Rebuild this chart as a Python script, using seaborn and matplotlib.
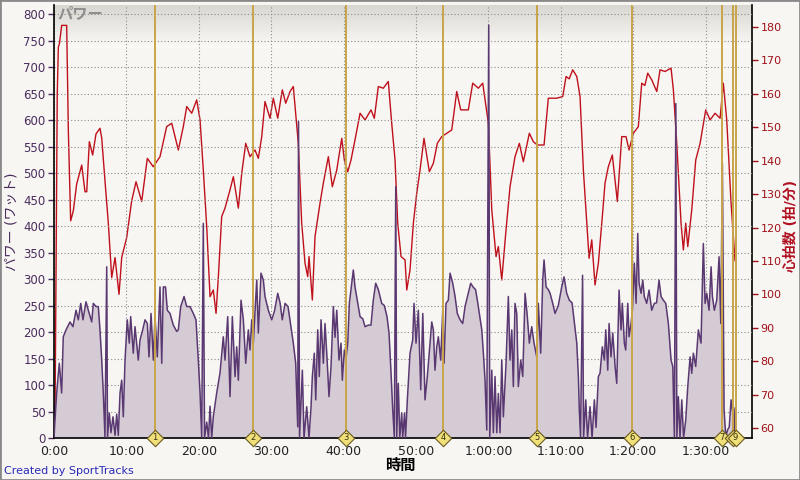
import numpy as np
import pandas as pd
import matplotlib
matplotlib.use('Agg')
import matplotlib.pyplot as plt
import seaborn as sns
from matplotlib.ticker import FuncFormatter, MultipleLocator
from matplotlib.patches import Rectangle

# 心拍数 (分, 拍/分)
hr_t = [0.0, 0.15, 0.45, 0.6, 0.75, 1.06, 1.75, 1.98, 2.3, 2.67, 3.13, 3.83, 4.28, 4.52, 4.88, 5.34,
        5.8, 6.35, 6.59, 7.04, 7.5, 7.97, 8.43, 8.98, 9.35, 10.04, 10.73, 11.33, 12.11, 12.89, 13.7,
        14.64, 15.56, 16.26, 17.17, 17.86, 18.33, 19.02, 19.71, 20.17, 20.62, 21.09, 21.55, 22.0,
        22.38, 22.7, 23.16, 23.62, 24.31, 24.77, 25.46, 25.93, 26.48, 27.07, 27.76, 28.22, 28.69,
        29.14, 29.83, 30.29, 30.9, 31.53, 32.0, 32.6, 33.05, 33.38, 33.74, 34.21, 34.67, 35.04,
        35.22, 35.68, 36.05, 36.74, 37.2, 37.89, 38.44, 39.05, 39.74, 40.1, 40.57, 41.02, 41.57,
        42.27, 42.96, 43.78, 44.24, 44.79, 45.48, 46.17, 46.64, 47.1, 47.47, 47.93, 48.48, 48.72,
        49.17, 49.63, 50.1, 50.55, 51.1, 51.84, 52.39, 52.94, 53.55, 54.24, 54.93, 55.62, 56.17,
        57.22, 57.83, 58.6, 59.21, 59.53, 59.99, 60.46, 61.05, 61.37, 61.84, 62.43, 62.98, 63.67,
        64.27, 64.82, 65.65, 66.2, 66.75, 67.68, 68.27, 69.43, 70.26, 70.72, 71.15, 71.64, 72.2,
        72.65, 73.11, 73.58, 73.9, 74.27, 74.72, 75.18, 75.73, 76.1, 76.56, 77.11, 77.8, 78.41,
        79.0, 79.42, 80.01, 80.7, 81.17, 81.6, 82.0, 82.55, 83.25, 83.7, 84.39, 85.22, 85.54,
        86.01, 86.6, 86.92, 87.25, 87.53, 88.08, 88.63, 89.23, 90.01, 90.61, 91.3, 91.99, 92.44,
        92.91, 93.51, 94.06]
hr_v = [62, 66, 160, 174, 175, 180.5, 180.5, 149, 122, 125, 133, 138.7, 130.7, 130.7, 145.7, 141.7,
        148, 149.7, 146.8, 134, 121.4, 105, 111, 100, 111, 117, 128, 133.7, 127.8, 140.7, 138.2,
        141.2, 150.2, 151.2, 143.2, 150.2, 156.2, 154.2, 158.2, 152.2, 137.2, 120.3, 99.3, 101.3,
        94.3, 105.3, 123.3, 125.8, 131.3, 135.2, 125.8, 136.3, 145.2, 141.2, 143.2, 140.7, 147.2,
        157.7, 152.7, 158.7, 152.7, 161.2, 157.2, 160.7, 162.2, 154.2, 145.2, 121.3, 109.3, 105.3,
        111.3, 98.3, 117.3, 127.3, 133.3, 141.2, 132.2, 137.2, 146.7, 140.2, 136.7, 140.2, 146.2,
        154.2, 152.2, 155.2, 152.7, 162.2, 161.7, 163.7, 151.2, 140.2, 121.3, 111.3, 110.3, 101.3,
        107.3, 121.3, 130.3, 137.2, 146.7, 136.7, 139.2, 145.2, 147.2, 148.2, 149.2, 160.7, 155.2,
        155.2, 163.2, 161.7, 163.2, 158.2, 151.2, 125.3, 111.3, 114.3, 104.3, 119.3, 132.2, 141.2,
        145.2, 139.7, 148.2, 145.7, 144.7, 144.7, 158.7, 158.7, 159.2, 165.2, 164.5, 167.2, 165.2,
        159.2, 137.2, 121.3, 110.8, 116.3, 102.8, 109.3, 123.3, 133.3, 138.2, 141.7, 127.8, 147.2,
        147.2, 143.2, 148.2, 150.2, 163.2, 162.5, 166.2, 164.2, 160.7, 167.2, 166.7, 167.7, 161.2,
        145.2, 121.3, 113.3, 121.3, 114.3, 125.3, 140.2, 145.2, 155.2, 152.2, 154.2, 152.7, 163.2,
        152.2, 127.3, 110]

# パワー (分, ワット)
pw_t = [0.0, 0.14, 0.37, 0.73, 1.06, 1.28, 1.66, 2.21, 2.62, 3.04, 3.36, 3.69, 4.0, 4.42, 4.74,
        5.21, 5.43, 5.8, 6.12, 6.35, 6.59, 6.81, 7.04, 7.28, 7.39, 7.64, 7.87, 8.15, 8.43, 8.66,
        8.88, 9.12, 9.35, 9.57, 9.81, 10.12, 10.4, 10.59, 10.95, 11.19, 11.64, 11.88, 12.25, 12.57,
        12.89, 13.12, 13.4, 13.72, 13.95, 14.27, 14.64, 14.88, 15.1, 15.4, 15.65, 16.02, 16.48,
        16.95, 17.17, 17.5, 17.96, 18.33, 18.78, 19.24, 19.61, 19.93, 20.17, 20.4, 20.62, 20.79,
        21.09, 21.34, 21.55, 21.78, 22.0, 22.46, 22.93, 23.38, 23.62, 23.99, 24.31, 24.63, 25.0,
        25.23, 25.46, 25.83, 26.15, 26.48, 26.84, 27.07, 27.31, 27.53, 28.0, 28.22, 28.59, 28.91,
        29.14, 29.6, 30.07, 30.46, 30.9, 31.22, 31.53, 31.91, 32.32, 32.73, 33.05, 33.38, 33.66,
        33.77, 33.91, 34.3, 34.53, 34.9, 35.22, 35.5, 35.68, 35.95, 36.15, 36.42, 36.64, 36.88,
        37.2, 37.43, 37.71, 37.98, 38.26, 38.58, 38.81, 39.05, 39.36, 39.64, 39.82, 40.1, 40.33,
        40.57, 40.79, 41.12, 41.34, 41.57, 41.95, 42.27, 42.64, 42.96, 43.41, 43.78, 44.1, 44.43,
        44.79, 45.26, 45.62, 45.99, 46.27, 46.55, 46.78, 47.0, 47.2, 47.33, 47.55, 47.75, 48.02,
        48.16, 48.41, 48.55, 48.8, 49.17, 49.54, 49.72, 50.0, 50.32, 50.65, 50.93, 51.24, 51.56,
        51.93, 52.17, 52.39, 52.62, 52.86, 53.08, 53.41, 53.69, 53.87, 54.14, 54.46, 54.7, 55.07,
        55.39, 55.7, 56.08, 56.45, 56.77, 57.22, 57.55, 57.87, 58.22, 58.47, 58.74, 59.08, 59.3,
        59.53, 59.77, 60.04, 60.18, 60.46, 60.68, 60.91, 61.15, 61.37, 61.6, 61.84, 62.06, 62.43,
        62.75, 62.98, 63.22, 63.44, 63.67, 63.91, 64.13, 64.46, 64.74, 65.06, 65.37, 65.65, 65.98,
        66.3, 66.67, 66.89, 67.22, 67.5, 67.68, 67.96, 68.27, 68.51, 68.88, 69.2, 69.65, 70.12,
        70.44, 70.81, 71.17, 71.55, 71.82, 72.2, 72.42, 72.55, 72.72, 73.0, 73.14, 73.44, 73.69,
        74.03, 74.31, 74.63, 74.86, 75.18, 75.41, 75.73, 76.01, 76.2, 76.48, 76.66, 76.93, 77.17,
        77.49, 77.72, 78.04, 78.31, 78.49, 78.77, 78.96, 79.24, 79.42, 79.7, 79.88, 80.15, 80.39,
        80.62, 80.8, 81.08, 81.31, 81.53, 81.86, 82.18, 82.55, 82.91, 83.22, 83.56, 83.84, 84.16,
        84.49, 84.85, 85.22, 85.46, 85.68, 85.88, 86.02, 86.23, 86.46, 86.7, 86.95, 87.25, 87.53,
        87.85, 88.08, 88.3, 88.63, 88.99, 89.36, 89.68, 89.92, 90.15, 90.47, 90.75, 90.93, 91.2,
        91.53, 91.85, 92.09, 92.31, 92.54, 92.78, 93.02, 93.26, 93.51, 93.72, 93.85, 94.06, 94.1]
pw_v = [0, 34, 85, 141, 85, 191, 204, 219, 210, 241, 223, 254, 223, 257, 241,
        219, 254, 248, 248, 204, 147, 84, 2, 323, 0, 47, 10, 40, 5, 45,
        5, 85, 109, 40, 147, 223, 179, 229, 160, 210, 147, 185, 204, 223,
        216, 153, 235, 147, 229, 153, 285, 141, 285, 285, 241, 235, 213,
        201, 204, 248, 267, 248, 248, 235, 223, 147, 85, 2, 405, 0,
        30, 0, 60, 0, 40, 84, 123, 191, 147, 229, 78, 229, 116,
        172, 109, 260, 223, 141, 204, 166, 223, 179, 298, 198, 311, 298,
        267, 241, 223, 240, 273, 255, 223, 254, 248, 210, 179, 141, 21,
        597, 0, 128, 0, 59, 0, 59, 116, 160, 72, 204, 116, 223,
        141, 216, 150, 78, 135, 248, 190, 241, 147, 179, 109, 166, 150,
        179, 254, 292, 317, 285, 254, 229, 225, 210, 213, 213, 260, 292,
        280, 254, 250, 229, 198, 122, 53, 2, 474, 0, 103, 0, 47,
        0, 47, 0, 72, 160, 185, 254, 179, 241, 91, 235, 72, 116,
        179, 219, 204, 128, 172, 191, 147, 241, 141, 254, 260, 311, 292,
        267, 235, 223, 216, 248, 273, 292, 285, 280, 260, 235, 204, 160,
        109, 15, 779, 0, 128, 10, 116, 10, 84, 10, 147, 40, 141,
        267, 147, 204, 97, 254, 235, 97, 147, 116, 273, 229, 179, 210,
        179, 153, 254, 160, 298, 336, 285, 280, 273, 254, 235, 250, 285,
        304, 273, 260, 255, 223, 179, 116, 53, 2, 307, 0, 72, 0,
        59, 0, 72, 20, 116, 122, 172, 147, 204, 128, 216, 153, 198,
        135, 103, 279, 204, 254, 179, 166, 254, 191, 216, 241, 330, 254,
        386, 292, 273, 298, 267, 254, 279, 241, 254, 255, 298, 267, 260,
        254, 216, 147, 135, 2, 631, 0, 78, 0, 72, 0, 34, 97,
        153, 122, 160, 135, 204, 179, 367, 254, 273, 241, 323, 267, 241,
        260, 342, 216, 518, 53, 2, 15, 21, 72, 50, 5, 57, 0]

# ラップ
lap_t = [13.95, 27.49, 40.33, 53.73, 66.71, 79.83, 92.27, 93.78, 94.13]
lap_n = ['1', '2', '3', '4', '5', '6', '7', '8', '9']

hr = pd.DataFrame({'t': hr_t, 'bpm': hr_v})
pw = pd.DataFrame({'t': pw_t, 'watt': pw_v})

sns.set_theme(style='white')
plt.rcParams['font.family'] = ['DejaVu Sans', 'Noto Sans CJK JP']

fig = plt.figure(figsize=(8, 4.8), dpi=100, facecolor='#f7f6f2')
ax = fig.add_axes([54 / 800, 42 / 480, 698 / 800, 433 / 480])
ax2 = ax.twinx()
ax.set_zorder(2)
ax2.set_zorder(1)
ax.patch.set_visible(False)
ax2.set_facecolor('#fbfaf6')

# 上部のグラデーション
grad = np.linspace(0, 1, 64).reshape(-1, 1)
ax2.imshow(grad, cmap=matplotlib.colors.LinearSegmentedColormap.from_list('g', ['#d8d6d1', '#fbfaf6']),
           extent=(0, 1, 0.9, 1), transform=ax2.transAxes, aspect='auto', zorder=0)

# 心拍数
sns.lineplot(data=hr, x='t', y='bpm', ax=ax2, color='#c0101c', linewidth=1.0,
             estimator=None, sort=False, zorder=3)

# パワー
ax.fill_between(pw['t'], 0, pw['watt'], color='#d4cbd4', linewidth=0, zorder=1)
sns.lineplot(data=pw, x='t', y='watt', ax=ax, color='#5a3872', linewidth=1.1,
             estimator=None, sort=False, zorder=3)

# ラップ線とマーカー
for t in lap_t:
    ax.axvline(t, color='#c9a448', linewidth=1.4, zorder=4)
ax.scatter(lap_t, [0] * len(lap_t), marker='D', s=70, color='#f0e07a', edgecolor='#6b5a1e',
           linewidth=0.8, zorder=6, clip_on=False)
for t, n in zip(lap_t, lap_n):
    if n == '8':
        continue
    ax.text(t, 0, n, ha='center', va='center', fontsize=6, color='#3a3010', zorder=7, clip_on=False)

ax.set_xlim(0, 96.4)
ax.set_ylim(0, 817)
ax2.set_ylim(57, 186.6)

ax.xaxis.set_major_locator(MultipleLocator(10))
ax.yaxis.set_major_locator(MultipleLocator(50))
ax2.yaxis.set_major_locator(MultipleLocator(10))


def fmt_time(x, pos):
    m = int(round(x))
    h, mm = divmod(m, 60)
    return f'{h}:{mm:02d}:00' if h else f'{mm}:00'


ax.xaxis.set_major_formatter(FuncFormatter(fmt_time))
ax.grid(True, color='#8c8c8c', linestyle=(0, (1, 2)), linewidth=0.8)
ax2.grid(False)

for a in (ax, ax2):
    for s in a.spines.values():
        s.set_visible(False)
ax.spines['left'].set_visible(True)
ax.spines['bottom'].set_visible(True)
ax2.spines['right'].set_visible(True)
for s in (ax.spines['left'], ax.spines['bottom'], ax2.spines['right']):
    s.set_color('black')
    s.set_linewidth(1.2)

ax.tick_params(axis='y', direction='out', length=4, width=1, color='#4a2c5e', labelsize=8.5,
               labelcolor='#4a2c5e', left=True, pad=2)
ax.tick_params(axis='x', direction='out', length=0, labelsize=9, labelcolor='#222222', pad=5)
ax2.tick_params(axis='y', direction='out', length=4, width=1, color='#a01018', labelsize=8,
                labelcolor='#a01018', right=True, pad=2)
ax.set_xlabel('')
ax.set_ylabel('')
ax2.set_ylabel('')

ax.text(0.005, 0.998, 'パワー', transform=ax.transAxes, ha='left', va='top', fontsize=11,
        fontweight='bold', color='#8e8e8e', zorder=8)

fig.text(12 / 800, 1 - 222 / 480, 'パワー (ワット)', rotation=90, ha='center', va='center',
         fontsize=10, color='#4a2c5e')
fig.text(791 / 800, 1 - 226 / 480, '心拍数 (拍/分)', rotation=90, ha='center', va='center',
         fontsize=10, fontweight='bold', color='#b01020')
fig.text(400 / 800, 1 - 465 / 480, '時間', ha='center', va='center', fontsize=11,
         fontweight='bold', color='black')
fig.text(4 / 800, 1 - 471 / 480, 'Created by SportTracks', ha='left', va='center', fontsize=8,
         color='#2a2ab8')

fig.patches.append(Rectangle((0, 0), 1, 1, transform=fig.transFigure, fill=False,
                             edgecolor='#8a8a8a', linewidth=2))

fig.savefig('out.png', dpi=100, facecolor=fig.get_facecolor())
